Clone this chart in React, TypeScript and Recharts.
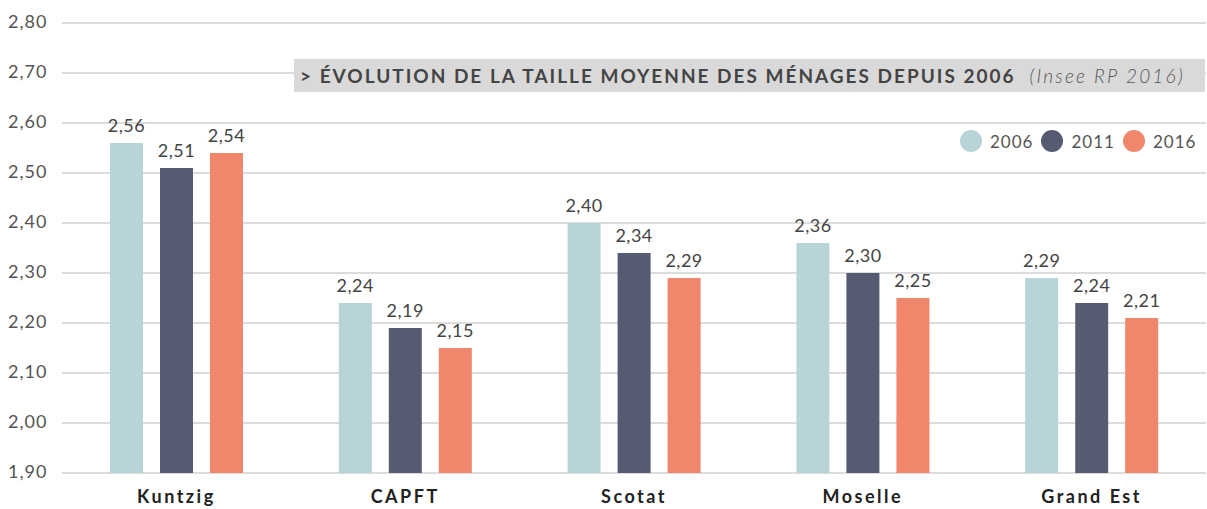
import { Bar, BarChart, CartesianGrid, LabelList, XAxis, YAxis } from "recharts";

const categories = ["Kuntzig", "CAPFT", "Scotat", "Moselle", "Grand Est"];
const values2006 = [2.56, 2.24, 2.4, 2.36, 2.29];
const values2011 = [2.51, 2.19, 2.34, 2.3, 2.24];
const values2016 = [2.54, 2.15, 2.29, 2.25, 2.21];
const yTicks = [1.9, 2.0, 2.1, 2.2, 2.3, 2.4, 2.5, 2.6, 2.7, 2.8];

const series = [
  { key: "y2006", name: "2006", color: "#b9d4d9" },
  { key: "y2011", name: "2011", color: "#565b72" },
  { key: "y2016", name: "2016", color: "#f0876c" },
];

const data = categories.map((name, i) => ({
  name,
  y2006: values2006[i],
  y2011: values2011[i],
  y2016: values2016[i],
}));

const FONT = "Lato, 'Open Sans', sans-serif";
const fmt = (v: unknown) => Number(v).toFixed(2).replace(".", ",");

function YTick({ y, payload }: any) {
  return (
    <text x={8} y={y} dy={5} fill="#555" fontSize={18} fontFamily={FONT} textAnchor="start" letterSpacing={1}>
      {fmt(payload.value)}
    </text>
  );
}

function XTick({ x, y, payload }: any) {
  return (
    <text x={x} y={y} dy={22} fill="#222" fontSize={18} fontWeight={700} fontFamily={FONT} textAnchor="middle" letterSpacing={2.5}>
      {payload.value}
    </text>
  );
}

export default function App() {
  return (
    <div style={{ position: "absolute", left: 0, top: 0, width: 1207, height: 509, background: "#fff" }}>
      <BarChart
        width={1207}
        height={509}
        data={data}
        margin={{ top: 23, right: 1, left: 0, bottom: 0 }}
        barSize={33}
        barGap={17}
      >
        <CartesianGrid vertical={false} stroke="#dcdcdc" strokeWidth={2} />
        <XAxis dataKey="name" height={36} axisLine={false} tickLine={false} tick={<XTick />} interval={0} />
        <YAxis
          width={62}
          domain={[1.9, 2.8]}
          ticks={yTicks}
          axisLine={false}
          tickLine={false}
          tick={<YTick />}
          allowDataOverflow
        />
        {series.map((s) => (
          <Bar key={s.key} dataKey={s.key} name={s.name} fill={s.color} isAnimationActive={false}>
            <LabelList
              dataKey={s.key}
              position="top"
              offset={11}
              formatter={fmt}
              fill="#444"
              fontSize={18}
              fontFamily={FONT}
              letterSpacing={0.5}
            />
          </Bar>
        ))}
      </BarChart>
      <div
        style={{
          position: "absolute",
          left: 294,
          top: 59,
          width: 911,
          height: 33,
          background: "#d9d9d9",
          fontFamily: FONT,
          color: "#444",
          display: "flex",
          alignItems: "center",
          paddingLeft: 6,
          boxSizing: "border-box",
          whiteSpace: "nowrap",
        }}
      >
        <span style={{ fontSize: 19, fontWeight: 700, letterSpacing: 2.0 }}>
          {"> ÉVOLUTION DE LA TAILLE MOYENNE DES MÉNAGES DEPUIS 2006"}
        </span>
        <span style={{ fontSize: 19, fontStyle: "italic", fontWeight: 300, marginLeft: 14, letterSpacing: 2.2, color: "#555" }}>
          (Insee RP 2016)
        </span>
      </div>
      <div
        style={{
          position: "absolute",
          left: 960,
          top: 130,
          display: "flex",
          alignItems: "center",
          fontFamily: FONT,
          fontSize: 17,
          color: "#555",
          letterSpacing: 1,
        }}
      >
        {series.map((s) => (
          <div key={s.key} style={{ display: "flex", alignItems: "center", marginRight: 8 }}>
            <span style={{ width: 22, height: 22, borderRadius: 11, background: s.color, display: "inline-block", marginRight: 8 }} />
            <span>{s.name}</span>
          </div>
        ))}
      </div>
    </div>
  );
}
